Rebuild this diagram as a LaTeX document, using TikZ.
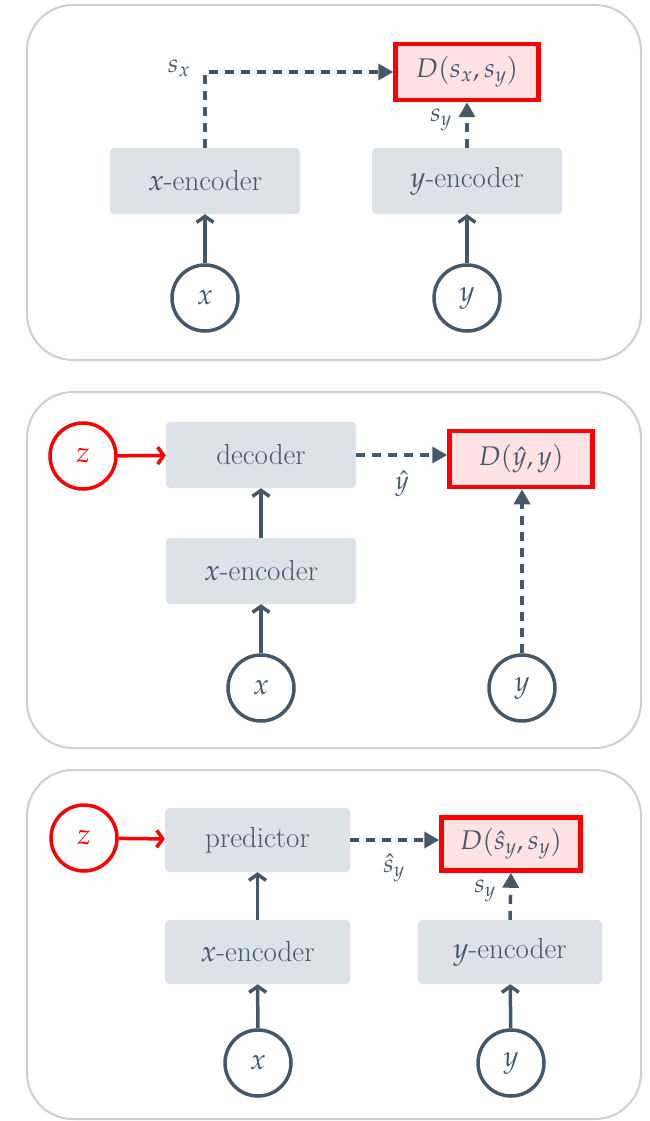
\documentclass[tikz,border=0pt]{standalone}
\usepackage{mathpazo}
\usetikzlibrary{arrows.meta}
\definecolor{slate}{HTML}{44586A}
\definecolor{boxfill}{HTML}{DDE2E9}
\definecolor{panelgray}{HTML}{CFCFCF}
\definecolor{lossred}{HTML}{FF0000}
\definecolor{lossfill}{HTML}{FFE3E4}
\begin{document}
\begin{tikzpicture}[x=1pt,y=-1pt,
  every node/.style={text=slate},
  panel/.style={draw=panelgray, line width=2pt, rounded corners=46pt},
  block/.style={fill=boxfill, rounded corners=4pt, minimum width=190pt, minimum height=66pt, inner sep=0pt,
                font=\fontsize{29}{34}\selectfont},
  loss/.style={draw=lossred, fill=lossfill, line width=4.5pt, minimum width=143pt, minimum height=56pt, inner sep=0pt,
               font=\fontsize{27}{32}\selectfont},
  var/.style={circle, draw=slate, line width=3.5pt, minimum size=66pt, inner sep=0pt, font=\fontsize{29}{34}\selectfont},
  latent/.style={circle, draw=lossred, line width=3.5pt, minimum size=66pt, inner sep=0pt, text=lossred,
                 font=\fontsize{29}{34}\selectfont},
  feed/.style={draw=slate, line width=3.5pt, -{Straight Barb[length=6pt,width=17pt,line width=3.5pt]}},
  zfeed/.style={draw=lossred, line width=3.5pt, -{Straight Barb[length=6pt,width=17pt,line width=3.5pt]}},
  embed/.style={draw=slate, line width=3.5pt, dash pattern=on 9pt off 7pt, -{Triangle[length=15pt,width=16pt]}},
  lbl/.style={inner sep=0pt, font=\fontsize{26}{30}\selectfont}
]
\useasboundingbox (0,0) rectangle (649,1121);

% ---------- joint-embedding architecture ----------
\draw[panel] (27,5) rectangle (641,360);
\node[block] (xenc1) at (205,181) {$x$-encoder};
\node[block] (yenc1) at (467,181) {$y$-encoder};
\node[loss]  (D1)    at (467,72)  {$D(s_x,s_y)$};
\node[var]   (x1)    at (205,298) {$x$};
\node[var]   (y1)    at (467,298) {$y$};
\coordinate (c1) at (xenc1 |- D1);
\draw[feed] (x1) -- (xenc1);
\draw[feed] (y1) -- (yenc1);
\draw[embed] (xenc1.north) -- (c1) -- (D1.west);
\draw[embed] (yenc1.north) -- (D1.south);
\node[lbl] (sx1) at (179,68) {$s_x$};
\node[lbl] (sy1) at (441,120) {$s_y$};

% ---------- generative architecture ----------
\draw[panel] (27,392) rectangle (641,748);
\node[latent] (z2)    at (83,456)  {$z$};
\node[block]  (dec2)  at (261,455) {decoder};
\node[block]  (xenc2) at (261,571) {$x$-encoder};
\node[var]    (x2)    at (261,688) {$x$};
\node[loss]   (D2)    at (521,459) {$D(\hat{y},y)$};
\node[var]    (y2)    at (522,688) {$y$};
\draw[zfeed] (z2) -- (dec2);
\draw[feed] (x2) -- (xenc2);
\draw[feed] (xenc2) -- (dec2);
\draw[embed] (dec2.east) -- (D2.west |- dec2.east);
\draw[embed] (y2) -- (y2 |- D2.south);
\node[lbl] (yh2) at (402,484) {$\hat{y}$};

% ---------- joint-embedding predictive architecture ----------
\draw[panel] (27,770) rectangle (641,1119);
\node[latent] (z3)    at (84,838)   {$z$};
\node[block, minimum width=185pt, minimum height=64pt] (pred3) at (257.5,840) {predictor};
\node[block, minimum width=185pt, minimum height=64pt] (xenc3) at (257.5,952) {$x$-encoder};
\node[block, minimum width=184pt, minimum height=64pt] (yenc3) at (510,952)   {$y$-encoder};
\node[var]    (x3)    at (258,1063) {$x$};
\node[var]    (y3)    at (511,1063) {$y$};
\node[loss, minimum width=139pt, minimum height=53pt] (D3) at (511,844) {$D(\hat{s}_y,s_y)$};
\draw[zfeed] (z3) -- (pred3);
\draw[feed] (x3) -- (xenc3);
\draw[feed] (y3) -- (yenc3);
\draw[feed] (xenc3) -- (pred3);
\draw[embed] (pred3.east) -- (D3.west |- pred3.east);
\draw[embed] (yenc3.north) -- (D3.south);
\node[lbl] (sh3) at (394,868) {$\hat{s}_y$};
\node[lbl] (sy3) at (485,891) {$s_y$};
\end{tikzpicture}
\end{document}
